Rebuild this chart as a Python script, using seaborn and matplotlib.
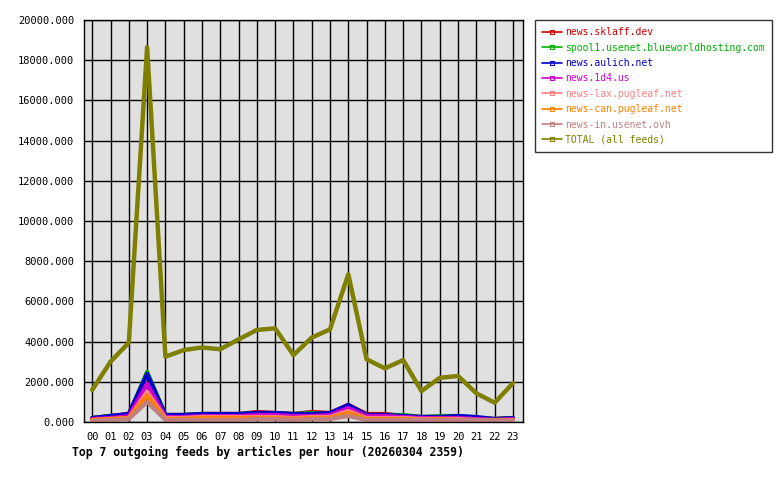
import matplotlib
matplotlib.use("Agg")
import matplotlib.pyplot as plt
import numpy as np
import pandas as pd
import seaborn as sns
from matplotlib.lines import Line2D

HOURS = [f"{h:02d}" for h in range(24)]

FEEDS = [
    "news.sklaff.dev",
    "spool1.usenet.blueworldhosting.com",
    "news.aulich.net",
    "news.1d4.us",
    "news-lax.pugleaf.net",
    "news-can.pugleaf.net",
    "news-in.usenet.ovh",
    "TOTAL (all feeds)",
]
COLORS = ["#cc0000", "#00b000", "#0000cc", "#cc00cc", "#ff8080", "#ff8000", "#c08080", "#808000"]

sklaff = [200, 300, 400, 2400, 350, 350, 400, 400, 400, 500, 450, 400, 500, 450, 850, 400, 400, 300, 250, 250, 250, 200, 150, 200]
spool1 = [200, 300, 350, 2500, 350, 350, 400, 400, 400, 450, 450, 400, 450, 400, 800, 350, 350, 350, 250, 300, 300, 200, 150, 200]
aulich = [200, 300, 400, 2400, 350, 350, 400, 400, 400, 450, 450, 400, 400, 450, 850, 350, 350, 300, 250, 250, 300, 250, 150, 200]
one_d4 = [150, 200, 300, 1900, 250, 250, 300, 300, 300, 350, 350, 300, 300, 350, 700, 300, 300, 250, 200, 200, 200, 150, 100, 150]
lax = [100, 150, 200, 1500, 200, 200, 250, 250, 250, 250, 250, 200, 250, 250, 550, 200, 200, 200, 150, 150, 150, 100, 100, 100]
can = [100, 150, 200, 1300, 150, 150, 200, 200, 200, 200, 200, 150, 200, 200, 450, 150, 150, 150, 100, 150, 100, 100, 100, 100]
news_in = [50, 100, 150, 1000, 100, 100, 100, 100, 100, 150, 150, 100, 150, 150, 300, 100, 100, 100, 100, 100, 100, 100, 80, 80]
total = [1600, 3000, 3950, 18650, 3250, 3580, 3710, 3620, 4110, 4580, 4660, 3330, 4200, 4610, 7350, 3120, 2670, 3080, 1540, 2200, 2290, 1430, 960, 1930]

SERIES = [sklaff, spool1, aulich, one_d4, lax, can, news_in, total]

df = pd.concat(
    [pd.DataFrame({"hour": np.arange(24), "articles": vals, "feed": name}) for name, vals in zip(FEEDS, SERIES)],
    ignore_index=True,
)

sns.set_theme(style="white")
plt.rcParams["font.family"] = ["DejaVu Sans Mono"]
plt.rcParams["text.color"] = "black"
plt.rcParams["xtick.color"] = "black"
plt.rcParams["ytick.color"] = "black"

fig = plt.figure(figsize=(7.8, 4.8), dpi=100)
ax = fig.add_axes([0.1077, 0.1208, 0.5628, 0.8375])
ax.set_facecolor("#e0e0e0")

palette = dict(zip(FEEDS, COLORS))
sns.lineplot(
    df[df["feed"] != FEEDS[-1]], x="hour", y="articles", hue="feed", hue_order=FEEDS[:-1],
    palette=palette, linewidth=3, legend=False, ax=ax,
)
sns.lineplot(
    df[df["feed"] == FEEDS[-1]], x="hour", y="articles", color=COLORS[-1],
    linewidth=3.2, legend=False, ax=ax,
)

ax.set_xlim(-0.45, 23.55)
ax.set_ylim(0, 20000)
ax.set_xticks(np.arange(24))
ax.set_xticklabels(HOURS)
ax.set_yticks(np.arange(0, 20001, 2000))
ax.set_yticklabels([f"{v:.3f}" for v in np.arange(0, 20001, 2000)])
ax.grid(True, color="black", linewidth=1)
ax.set_axisbelow(True)
ax.tick_params(axis="both", direction="out", length=4, width=1, color="black",
               labelcolor="black", labelsize=7.5, pad=3)
ax.set_xlabel("")
ax.set_ylabel("")
for sp in ax.spines.values():
    sp.set_color("black")
    sp.set_linewidth(1)

handles = [
    Line2D([], [], color=c, linewidth=1.2, marker="s", markersize=3, markerfacecolor="none", markeredgewidth=0.8)
    for c in COLORS
]
leg = fig.legend(
    handles, FEEDS, loc="upper left", bbox_to_anchor=(0.686, 0.958), fontsize=7.0,
    labelcolor="linecolor", frameon=True, fancybox=False, handlelength=2.0, handletextpad=0.3,
    labelspacing=0.55, borderpad=0.75, borderaxespad=0,
)
leg.get_frame().set_edgecolor("black")
leg.get_frame().set_linewidth(1)

fig.text(0.092, 0.058, "Top 7 outgoing feeds by articles per hour (20260304 2359)",
         fontsize=8.3, fontweight="bold", color="black", ha="left", va="center")

fig.savefig("out.png", dpi=100, facecolor="white")
